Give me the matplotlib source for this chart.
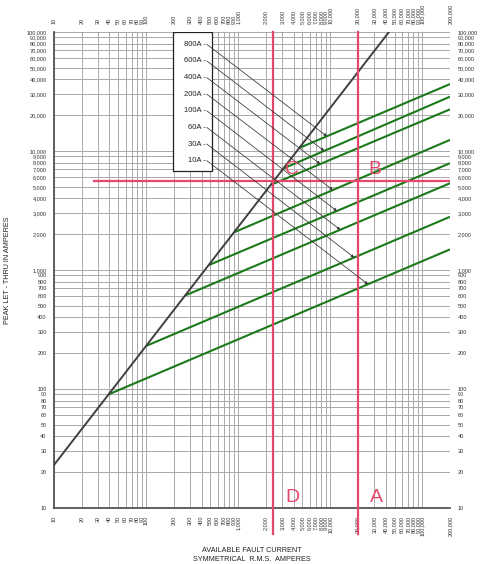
import numpy as np
import matplotlib
matplotlib.use('Agg')
import matplotlib.pyplot as plt
from matplotlib.patches import Rectangle
from matplotlib.ticker import FixedLocator, FixedFormatter, NullLocator

plt.rcParams['font.family'] = ['Liberation Sans', 'DejaVu Sans']

# ---- axis ticks ----
x_tick_values = [10, 20, 30, 40, 50, 60, 70, 80, 90,
                 100, 200, 300, 400, 500, 600, 700, 800, 900,
                 1000, 2000, 3000, 4000, 5000, 6000, 7000, 8000, 9000,
                 10000, 20000, 30000, 40000, 50000, 60000, 70000, 80000, 90000,
                 100000, 200000]
y_tick_values = [10, 20, 30, 40, 50, 60, 70, 80, 90,
                 100, 200, 300, 400, 500, 600, 700, 800, 900,
                 1000, 2000, 3000, 4000, 5000, 6000, 7000, 8000, 9000,
                 10000, 20000, 30000, 40000, 50000, 60000, 70000, 80000, 90000,
                 100000]
x_tick_labels = [f'{v:,}' for v in x_tick_values]
y_tick_labels = [f'{v:,}' for v in y_tick_values]

# ---- available peak current line (black) ----
avail_x = [10, 43478]
avail_y = [23, 100000]

# ---- fuse let-through lines (green) ----
fuse_labels = ['10A', '30A', '60A', '100A', '200A', '400A', '600A', '800A']
fuse_start_x = [39, 100, 265, 480, 900, 2250, 3100, 4600]
fuse_start_y = [90, 230, 610, 1100, 2070, 5180, 7130, 10600]
fuse_end_x = [200000] * 8
fuse_end_y = [1490, 2800, 5360, 7900, 12400, 22400, 28600, 36500]
arrow_target_x = [25700, 18200, 12850, 11800, 10700, 7800, 8600, 9200]

# ---- worked example (red) ----
A_current = 20000
D_current = 2400
B_peak = 5600
red_h_start = 27

GREEN = '#1a7a1a'
RED = '#e5486b'
GRID = '#a9a9a9'
DARK = '#404040'

fig = plt.figure(figsize=(4.81, 5.64), dpi=100)
ax = fig.add_axes([54/481, 1-508/564, 396/481, 476/564])
ax.set_xscale('log')
ax.set_yscale('log')
ax.set_xlim(10, 200000)
ax.set_ylim(10, 100000)

ax.xaxis.set_major_locator(FixedLocator(x_tick_values))
ax.xaxis.set_major_formatter(FixedFormatter(x_tick_labels))
ax.xaxis.set_minor_locator(NullLocator())
ax.yaxis.set_major_locator(FixedLocator(y_tick_values))
ax.yaxis.set_major_formatter(FixedFormatter(y_tick_labels))
ax.yaxis.set_minor_locator(NullLocator())

ax.grid(True, which='major', color=GRID, lw=0.7, zorder=0)
ax.set_axisbelow(True)
ax.tick_params(which='both', length=0, labelsize=4, colors='#333333')
ax.tick_params(axis='x', labeltop=True, labelbottom=True, labelrotation=90, pad=5.5)
ax.tick_params(axis='y', labelleft=True, labelright=True, pad=5.3)
for lab in ax.get_xticklabels():
    lab.set_rotation(90)

for s in ['top', 'right']:
    ax.spines[s].set_visible(False)
for s in ['left', 'bottom']:
    ax.spines[s].set_color('#555555')
    ax.spines[s].set_linewidth(1.3)

# legend box
box = Rectangle((0.301, 0.708), 0.099, 0.292, transform=ax.transAxes,
                facecolor='white', edgecolor='#222222', lw=0.9, zorder=2)
ax.add_patch(box)

# green fuse lines
for i in range(len(fuse_labels)):
    ax.plot([fuse_start_x[i], fuse_end_x[i]], [fuse_start_y[i], fuse_end_y[i]],
            color=GREEN, lw=1.5, zorder=3, solid_capstyle='butt')

# black available line
ax.plot(avail_x, avail_y, color=DARK, lw=1.4, zorder=3)

# red example lines
ax.axvline(D_current, ymin=-0.055, ymax=1, color=RED, lw=1.6, clip_on=False, zorder=4)
ax.axvline(A_current, ymin=-0.055, ymax=1, color=RED, lw=1.6, clip_on=False, zorder=4)
xmin_frac = (np.log10(red_h_start) - 1) / (np.log10(200000) - 1)
ax.axhline(B_peak, xmin=xmin_frac, xmax=1, color=RED, lw=1.6, zorder=4)

# labels in box and arrows
n = len(fuse_labels)
for k, i in enumerate(range(n - 1, -1, -1)):
    yfrac = 0.974 - k * 0.0349
    ax.text(0.383, yfrac, fuse_labels[i] + ' -', transform=ax.transAxes,
            ha='right', va='center', fontsize=5.5, color='#222222', zorder=6)
    lx = np.log10([fuse_start_x[i], fuse_end_x[i]])
    ly = np.log10([fuse_start_y[i], fuse_end_y[i]])
    ty = 10 ** np.interp(np.log10(arrow_target_x[i]), lx, ly)
    ax.annotate('', xy=(arrow_target_x[i], ty), xycoords='data',
                xytext=(0.386, yfrac), textcoords='axes fraction',
                arrowprops=dict(arrowstyle='-|>', lw=0.55, color='#333333',
                                mutation_scale=4, shrinkA=0, shrinkB=0),
                zorder=5)

# point letters
letter_kw = dict(textcoords='offset pixels', ha='center', va='center',
                 fontsize=14, color=RED, zorder=6)
ax.annotate('B', xy=(A_current, B_peak), xytext=(17, 11), **letter_kw)
ax.annotate('C', xy=(D_current, B_peak), xytext=(19, 11), **letter_kw)
ax.annotate('D', xy=(D_current, 10), xytext=(19, 10), **letter_kw)
ax.annotate('A', xy=(A_current, 10), xytext=(19, 10), **letter_kw)

# axis titles
fig.text(8/481, 1-270/564, 'PEAK LET - THRU IN AMPERES', rotation=90,
         ha='center', va='center', fontsize=5.2, color='#222222')
fig.text(252/481, 1-550.5/564, 'AVAILABLE FAULT CURRENT',
         ha='center', va='center', fontsize=5.2, color='#222222')
fig.text(252/481, 1-559.5/564, 'SYMMETRICAL  R.M.S.  AMPERES',
         ha='center', va='center', fontsize=5.2, color='#222222')

fig.savefig('out.png', dpi=100)
